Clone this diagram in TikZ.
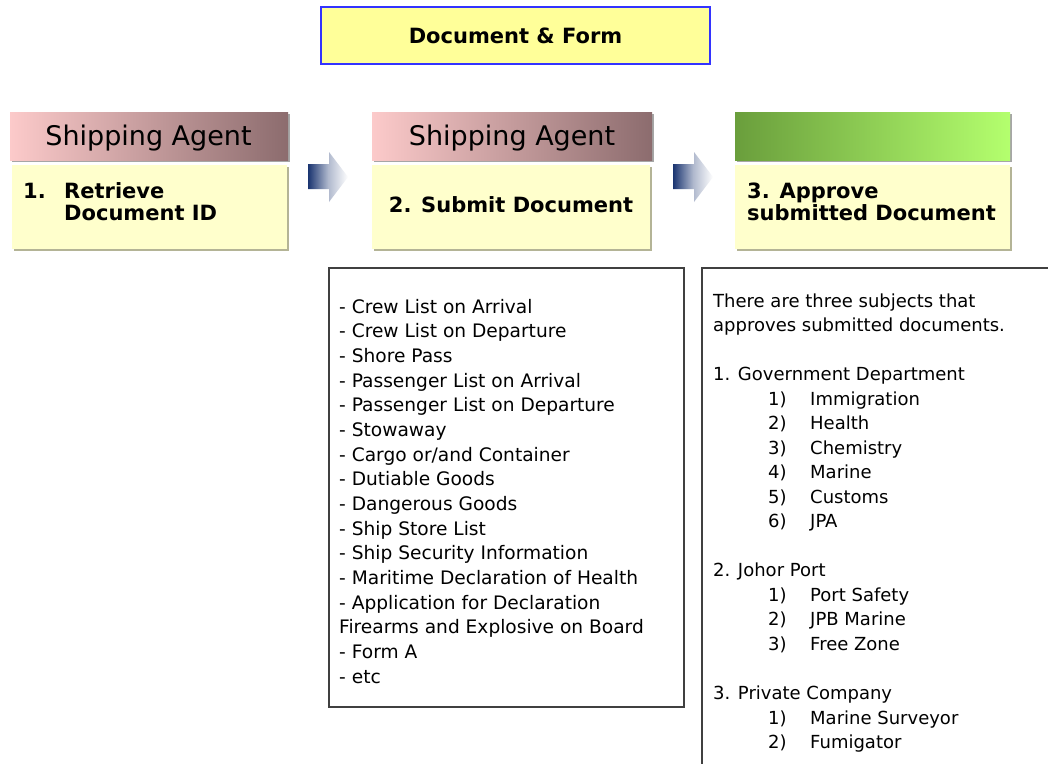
\documentclass[tikz,border=0pt]{standalone}
\usepackage{fontspec}
\setmainfont{DejaVu Sans}
\definecolor{titlefill}{HTML}{FFFF99}
\definecolor{titleline}{HTML}{3333FF}
\definecolor{bodyfill}{HTML}{FFFFCC}
\definecolor{bodyshade}{HTML}{B4B496}
\definecolor{pinkL}{HTML}{FCCACA}
\definecolor{pinkR}{HTML}{8C6C6E}
\definecolor{greenL}{HTML}{6A9E3C}
\definecolor{greenR}{HTML}{B4FF6E}
\definecolor{navy}{HTML}{1A3470}
\definecolor{boxline}{HTML}{404040}
\tikzset{
  hdrpink/.style={left color=pinkL, right color=pinkR},
  hdrgreen/.style={left color=greenL, right color=greenR},
  hdrshade/.style={fill=black!35},
  bodybox/.style={fill=bodyfill},
  bodyshadow/.style={fill=bodyshade},
  blockarrow/.style={left color=navy, right color=white, middle color=navy!35},
  listbox/.style={draw=boxline, line width=1.4pt},
  boldtxt/.style={inner sep=0pt, font=\fontsize{21}{22}\selectfont\bfseries},
  hdrtxt/.style={inner sep=0pt, anchor=base, font=\fontsize{27}{30}\selectfont},
  listtxt/.style={inner sep=0pt, anchor=base west, font=\fontsize{18}{24}\selectfont},
  doctxt/.style={listtxt, font=\fontsize{18.6}{24}\selectfont}
}
\newcommand{\stepArrow}[1]{%
  \path[blockarrow, shift={(#1,0)}]
    (308,164) -- (329,164) -- (329,152) -- (348,177) -- (329,202)
    -- (329,189) -- (308,189) -- cycle;}
\begin{document}
\begin{tikzpicture}[x=1pt,y=-1pt]
\useasboundingbox[fill=white] (0,0) rectangle (1048,763);

% title
\path[fill=titlefill, draw=titleline, line width=1.4pt] (321,7) rectangle (710,64);
\node[boldtxt, anchor=base] (title) at (515.5,43) {Document \& Form};

% step headers
\path[hdrshade] (12,114) rectangle (290,162);
\path[hdrpink] (10,112) rectangle (288,160);
\path[hdrshade] (374,114) rectangle (654,162);
\path[hdrpink] (372,112) rectangle (652,160);
\path[hdrshade] (737,114) rectangle (1012,162);
\path[hdrgreen] (735,112) rectangle (1010,160);
\node[hdrtxt] (agent1) at (148.5,145) {Shipping Agent};
\node[hdrtxt] (agent2) at (512,145) {Shipping Agent};

% step bodies
\path[bodyshadow] (14,167) rectangle (289,251);
\path[bodybox] (12,165) rectangle (287,249);
\path[bodyshadow] (374,167) rectangle (652,251);
\path[bodybox] (372,165) rectangle (650,249);
\path[bodyshadow] (737,167) rectangle (1012,251);
\path[bodybox] (735,165) rectangle (1010,249);

\node[boldtxt, anchor=base west] (s1a) at (23,198) {1.};
\node[boldtxt, anchor=base west] (s1b) at (64,198) {Retrieve};
\node[boldtxt, anchor=base west] (s1c) at (64,220) {Document ID};
\node[boldtxt, anchor=base] (s2) at (511,212) {2. Submit Document};
\node[boldtxt, anchor=base west] (s3a) at (747,198) {3. Approve};
\node[boldtxt, anchor=base west] (s3b) at (747,220) {submitted Document};

% arrows between steps
\stepArrow{0}
\stepArrow{365}

% submitted documents list
\path[listbox] (329,268) rectangle (684,707);
\foreach \t [count=\k from 0] in {%
  - Crew List on Arrival,
  - Crew List on Departure,
  - Shore Pass,
  - Passenger List on Arrival,
  - Passenger List on Departure,
  - Stowaway,
  - Cargo or/and Container,
  - Dutiable Goods,
  - Dangerous Goods,
  - Ship Store List,
  - Ship Security Information,
  - Maritime Declaration of Health,
  - Application for Declaration,
  Firearms and Explosive on Board,
  - Form A,
  - etc}
  \node[doctxt] (doc\k) at (339,313+24.67*\k) {\t};

% approving subjects
\path[listbox] (1052,268) -- (702,268) -- (702,766);
\node[listtxt] (intro1) at (713,307) {There are three subjects that};
\node[listtxt] (intro2) at (713,331.5) {approves submitted documents.};
\node[listtxt] (grpA) at (713,380.5) {1. Government Department};
\foreach \t [count=\n] in {Immigration, Health, Chemistry, Marine, Customs, JPA} {
  \node[listtxt] (numA\n) at (768,380.5+24.5*\n) {\n)};
  \node[listtxt] (itemA\n) at (810,380.5+24.5*\n) {\t};
}
\node[listtxt] (grpB) at (713,576.5) {2. Johor Port};
\foreach \t [count=\n] in {Port Safety, JPB Marine, Free Zone} {
  \node[listtxt] (numB\n) at (768,576.5+24.5*\n) {\n)};
  \node[listtxt] (itemB\n) at (810,576.5+24.5*\n) {\t};
}
\node[listtxt] (grpC) at (713,699.5) {3. Private Company};
\foreach \t [count=\n] in {Marine Surveyor, Fumigator} {
  \node[listtxt] (numC\n) at (768,699.5+24.5*\n) {\n)};
  \node[listtxt] (itemC\n) at (810,699.5+24.5*\n) {\t};
}
\end{tikzpicture}
\end{document}
